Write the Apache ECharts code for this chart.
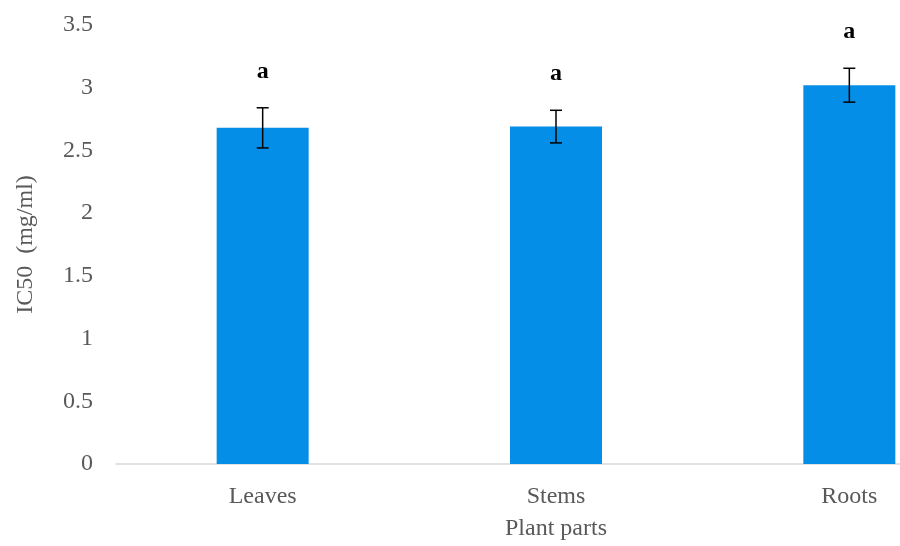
<!DOCTYPE html>
<html>
<head>
<meta charset="utf-8">
<script src="https://cdn.jsdelivr.net/npm/echarts@6/dist/echarts.min.js"></script>
<style>
  html, body { margin: 0; padding: 0; background: #fff; overflow: hidden; width: 900px; height: 546px; }
  /* the plot area continues past the right edge of the window */
  #chart { position: fixed; left: 0; top: 0; width: 996px; height: 546px; }
</style>
</head>
<body>
<div id="chart"></div>
<script>
// IC50 by plant part, mean ± error, with significance letters
const parts = ['Leaves', 'Stems', 'Roots'];
const ic50 = [2.68, 2.69, 3.02];
const ic50Err = [0.16, 0.13, 0.135];
const groupLetters = ['a', 'a', 'a'];
const yTicks = { min: 0, max: 3.5, step: 0.5 };

const serif = '"Liberation Serif", "Times New Roman", serif';
const textGray = '#595959';

const chart = echarts.init(document.getElementById('chart'), null, { renderer: 'canvas' });

chart.setOption({
  animation: false,
  backgroundColor: '#ffffff',
  grid: { left: 116, top: 25, bottom: 78, right: 0, containLabel: false },
  xAxis: {
    type: 'category',
    data: parts,
    boundaryGap: true,
    axisLine: { show: true, lineStyle: { color: '#d9d9d9', width: 1.5 } },
    axisTick: { show: false },
    axisLabel: { color: textGray, fontFamily: serif, fontSize: 24, margin: 21 },
    name: 'Plant parts',
    nameLocation: 'middle',
    nameGap: 53,
    nameTextStyle: { color: textGray, fontFamily: serif, fontSize: 24 }
  },
  yAxis: {
    type: 'value',
    min: yTicks.min,
    max: yTicks.max,
    interval: yTicks.step,
    axisLine: { show: false },
    axisTick: { show: false },
    splitLine: { show: false },
    axisLabel: { color: textGray, fontFamily: serif, fontSize: 24, margin: 23 },
    name: 'IC50  (mg/ml)',
    nameLocation: 'middle',
    nameGap: 78,
    nameTextStyle: { color: textGray, fontFamily: serif, fontSize: 24 }
  },
  series: [
    {
      type: 'bar',
      data: ic50,
      barWidth: 92,
      itemStyle: { color: '#058ee8' }
    },
    {
      type: 'custom',
      data: parts.map((p, i) => [i, ic50[i], ic50Err[i], groupLetters[i]]),
      encode: { x: 0, y: 1 },
      z: 10,
      renderItem: function (params, api) {
        const x = api.value(0);
        const mean = api.value(1);
        const err = api.value(2);
        const top = api.coord([x, mean + err]);
        const bot = api.coord([x, mean - err]);
        const cap = 6;
        const style = { stroke: '#000', lineWidth: 1.5 };
        return {
          type: 'group',
          children: [
            { type: 'line', shape: { x1: top[0], y1: top[1], x2: bot[0], y2: bot[1] }, style },
            { type: 'line', shape: { x1: top[0] - cap, y1: top[1], x2: top[0] + cap, y2: top[1] }, style },
            { type: 'line', shape: { x1: bot[0] - cap, y1: bot[1], x2: bot[0] + cap, y2: bot[1] }, style },
            {
              type: 'text',
              x: top[0],
              y: top[1] - 36,
              style: {
                text: groupLetters[params.dataIndex],
                fill: '#000',
                font: 'bold 24px ' + serif,
                align: 'center',
                verticalAlign: 'middle'
              }
            }
          ]
        };
      }
    }
  ]
});
</script>
</body>
</html>
